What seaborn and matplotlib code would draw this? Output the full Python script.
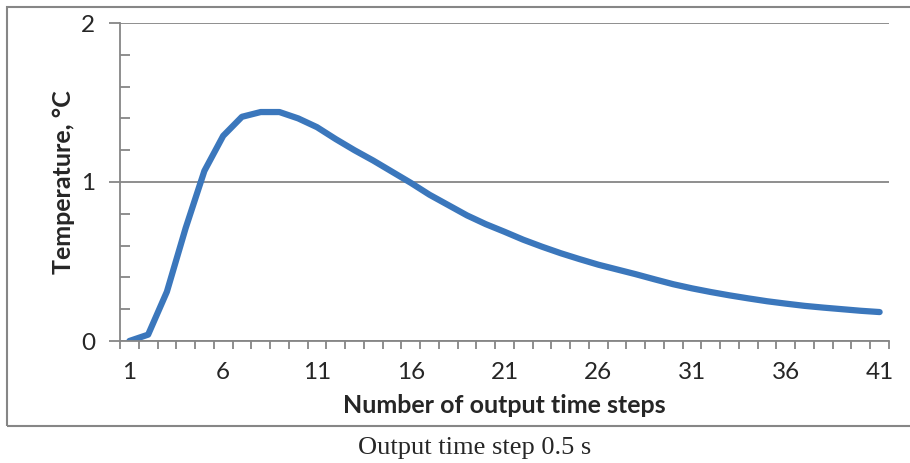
import numpy as np
import matplotlib
matplotlib.use("Agg")
import matplotlib.pyplot as plt
import seaborn as sns
from matplotlib.patches import Rectangle

# Data
steps = list(range(1, 42))
temperature = [
    0.00, 0.04, 0.31, 0.71, 1.07, 1.29, 1.41, 1.44, 1.44, 1.40,
    1.345, 1.27, 1.20, 1.135, 1.065, 0.995, 0.92, 0.855, 0.79, 0.735,
    0.687, 0.637, 0.593, 0.552, 0.515, 0.48, 0.45, 0.42, 0.388, 0.357,
    0.331, 0.308, 0.287, 0.268, 0.25, 0.235, 0.221, 0.21, 0.20, 0.19,
    0.182,
]
xtick_labels = [1, 6, 11, 16, 21, 26, 31, 36, 41]
ytick_values = [0, 1, 2]

GRAY = "#868686"
BLUE = "#3b77bc"

sns.set_style("white")
plt.rcParams["font.family"] = ["Lato", "DejaVu Sans"]

fig = plt.figure(figsize=(9.1, 4.63), dpi=100)
ax = fig.add_axes([120 / 910, 1 - 341 / 463, 769 / 910, 318 / 463])

sns.lineplot(x=steps, y=temperature, ax=ax, color=BLUE, linewidth=4.5,
             solid_capstyle="round", solid_joinstyle="round")

ax.set_xlim(0.5, 41.5)
ax.set_ylim(0, 2)

# x axis: tick marks between categories, labels on every 5th category
ax.set_xticks(np.arange(0.5, 42, 1))
ax.set_xticklabels([])
ax.set_xticks(xtick_labels, minor=True)
ax.set_xticklabels([str(v) for v in xtick_labels], minor=True)
ax.tick_params(axis="x", which="major", direction="out", length=6, width=1.3,
               color=GRAY, bottom=True)
ax.tick_params(axis="x", which="minor", length=0, pad=15, labelsize=17.5)

# y axis
ax.set_yticks(ytick_values)
ax.set_yticks(np.arange(0.2, 2.0, 0.2), minor=True)
ax.tick_params(axis="y", which="major", direction="out", length=8, width=1.3,
               color=GRAY, left=True, labelsize=17.5, pad=10)
ax.tick_params(axis="y", which="minor", direction="in", length=7, width=1.3,
               color=GRAY, left=True)
ax.yaxis.grid(True, which="major", color=GRAY, linewidth=1.3)

for side in ["top", "right"]:
    ax.spines[side].set_visible(False)
for side in ["left", "bottom"]:
    ax.spines[side].set_color(GRAY)
    ax.spines[side].set_linewidth(1.3)

ax.set_xlabel("Number of output time steps", fontsize=18, fontweight="bold",
              labelpad=8)
ax.set_ylabel("Temperature, °C", fontsize=18, fontweight="bold", labelpad=4)

# chart border and caption
fig.add_artist(Rectangle((7 / 910, 1 - 426 / 463), 1.2, 419 / 463,
                         transform=fig.transFigure, fill=False,
                         edgecolor=GRAY, linewidth=1.5))
fig.text(475 / 910, 1 - 448 / 463, "Output time step 0.5 s", ha="center",
         va="center", fontsize=19, family="Liberation Serif")

fig.savefig("out.png", dpi=100)
